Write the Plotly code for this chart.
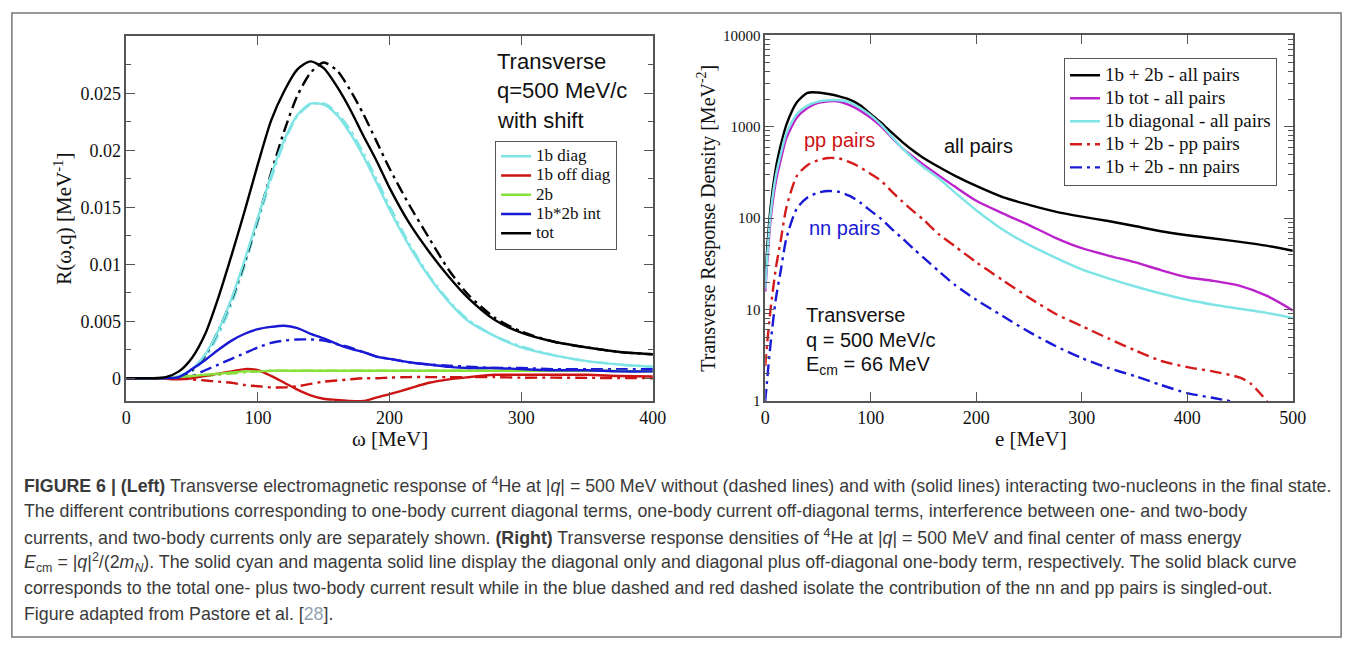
import plotly.graph_objects as go

W, H = 1363, 646
def px(x): return x / W
def py(y): return 1 - y / H

# ---------------- Left panel data (omega in MeV, R in MeV^-1) ----------------
omega = [0, 20, 30, 40, 50, 60, 70, 80, 90, 100, 110, 120, 130, 140, 150, 160, 170, 180, 190,
         200, 215, 230, 245, 260, 280, 300, 325, 350, 375, 400]
tot_fsi = [0, 0, 0.0001, 0.0006, 0.0018, 0.0039, 0.0071, 0.0108, 0.0147, 0.0188, 0.0226, 0.0252,
           0.0271, 0.0278, 0.0272, 0.0256, 0.0236, 0.0213, 0.0191, 0.0167, 0.0136, 0.0111, 0.0089,
           0.0070, 0.0051, 0.0040, 0.0032, 0.0027, 0.0023, 0.0021]
tot_nofsi = [0, 0, 0, 0.0001, 0.0007, 0.0020, 0.0042, 0.0069, 0.0102, 0.0140, 0.0180, 0.0217,
             0.0248, 0.0268, 0.0277, 0.0270, 0.0253, 0.0232, 0.0208, 0.0184, 0.0152, 0.0123, 0.0095,
             0.0073, 0.0053, 0.0041, 0.0032, 0.0027, 0.0023, 0.0021]
diag_fsi = [0, 0, 0, 0.0002, 0.0008, 0.0021, 0.0042, 0.0070, 0.0104, 0.0141, 0.0178, 0.0209,
            0.0231, 0.0241, 0.0240, 0.0231, 0.0215, 0.0195, 0.0172, 0.0148, 0.0116, 0.0089, 0.0067,
            0.0050, 0.0037, 0.0027, 0.0020, 0.0015, 0.0012, 0.0010]
diag_nofsi = [0, 0, 0, 0.0001, 0.0006, 0.0018, 0.0038, 0.0065, 0.0099, 0.0137, 0.0175, 0.0207,
              0.0230, 0.0240, 0.0241, 0.0233, 0.0218, 0.0198, 0.0175, 0.0151, 0.0118, 0.0090, 0.0068,
              0.0051, 0.0037, 0.0028, 0.0020, 0.0015, 0.0012, 0.0010]
int_fsi = [0, 0, 0, 0.0001, 0.0008, 0.0016, 0.0025, 0.0033, 0.0039, 0.0043, 0.0045, 0.0046, 0.0044,
           0.0039, 0.0035, 0.0030, 0.0026, 0.0023, 0.0019, 0.0017, 0.0014, 0.0012, 0.0010, 0.0009,
           0.0009, 0.0008, 0.0007, 0.0007, 0.0006, 0.0006]
int_nofsi = [0, 0, 0, 0, 0.0002, 0.0007, 0.0012, 0.0017, 0.0022, 0.0027, 0.0031, 0.0033, 0.0034,
             0.0034, 0.0033, 0.0030, 0.0027, 0.0023, 0.0019, 0.0017, 0.0014, 0.0012, 0.0011, 0.0010,
             0.0009, 0.0009, 0.0008, 0.0008, 0.0008, 0.0008]
twob_fsi = [0, 0, 0, 0.0001, 0.0002, 0.0003, 0.0004, 0.0005, 0.0006, 0.0006, 0.00065, 0.00065,
            0.00065, 0.00065, 0.00065, 0.00065, 0.00065, 0.00065, 0.00065, 0.00065, 0.00065,
            0.00065, 0.00065, 0.00065, 0.00065, 0.00065, 0.00065, 0.00065, 0.00063, 0.0006]
twob_nofsi = [0, 0, 0, 0, 0.0001, 0.0002, 0.0003, 0.0004, 0.0005, 0.0006, 0.00065, 0.00065,
              0.00065, 0.00065, 0.00065, 0.00065, 0.00065, 0.00065, 0.00065, 0.00065, 0.00065,
              0.00065, 0.00065, 0.00065, 0.00065, 0.00065, 0.00065, 0.00065, 0.00063, 0.0006]
off_fsi = [0, 0, -0.00005, -0.0001, 0, 0.0002, 0.0004, 0.0006, 0.0008, 0.0007, 0.0002, -0.0004,
           -0.0010, -0.0015, -0.0018, -0.0019, -0.0020, -0.0020, -0.0017, -0.0014, -0.0009,
           -0.0004, -0.0001, 0.0001, 0.0003, 0.0003, 0.0003, 0.0003, 0.0002, 0.00015]
off_nofsi = [0, 0, 0, 0, -0.0001, -0.0002, -0.0003, -0.0004, -0.0006, -0.0007, -0.0008, -0.0008,
             -0.0007, -0.0005, -0.0003, -0.0002, -0.0001, 0, 0, 0.00005, 0.0001, 0.0001, 0.0001,
             0.0001, 0.0001, 0.00005, 0.00005, 0.00003, 0.00002, 0]

left_labels = ["1b diag", "1b off diag", "2b", "1b*2b int", "tot"]

# ---------------- Right panel data (e in MeV, density in MeV^-2) ----------------
e_grid = [0, 2, 5, 10, 15, 20, 30, 40, 50, 60, 70, 80, 90, 100, 110, 120, 130, 140, 150, 165, 180,
          200, 225, 250, 275, 300, 325, 350, 375, 400, 425, 450, 475, 500]
all_pairs = [22.8, 50, 130, 350, 650, 1050, 1850, 2350, 2370, 2280, 2150, 1980, 1720, 1370, 1100,
             860, 680, 550, 455, 360, 290, 225, 170, 140, 118, 104, 93, 82, 72, 65, 60, 55, 50, 44]
onebody_tot = [15.7, 35, 95, 250, 450, 750, 1260, 1600, 1820, 1900, 1890, 1720, 1500, 1250, 1000,
               760, 580, 470, 385, 290, 220, 155, 113, 84, 61, 47, 39, 33, 27, 22.6, 20.6, 18.2,
               14.2, 9.8]
onebody_diag = [17, 40, 110, 290, 520, 850, 1380, 1700, 1880, 1950, 1950, 1850, 1600, 1330, 1050,
                780, 580, 450, 360, 270, 190, 122, 75, 51, 37, 27.5, 22, 18, 15, 12.8, 11.3, 10.2,
                9.2, 8.1]
e_pp = [0, 2, 5, 10, 15, 20, 30, 40, 50, 60, 70, 80, 90, 100, 110, 120, 130, 140, 150, 165, 180,
        200, 225, 250, 275, 300, 325, 350, 375, 400, 425, 450, 460, 470, 480]
pp_pairs = [2.4, 4.5, 10, 28, 60, 130, 290, 380, 430, 455, 450, 410, 360, 305, 255, 195, 152, 120,
            96, 66, 49, 33, 21, 13.5, 9.0, 6.6, 4.85, 3.6, 2.75, 2.35, 2.1, 1.8, 1.55, 1.18, 0.85]
e_nn = [0, 2, 5, 10, 15, 20, 30, 40, 50, 60, 70, 80, 90, 100, 110, 120, 130, 140, 150, 165, 180,
        200, 225, 250, 275, 300, 325, 350, 375, 400, 425, 450]
nn_pairs = [1.0, 1.8, 4.2, 13, 28, 60, 128, 168, 190, 198, 194, 175, 148, 120, 98, 76, 60, 47, 37,
            26, 18.5, 12.8, 8.5, 5.7, 4.0, 2.95, 2.3, 1.88, 1.5, 1.22, 1.08, 0.95]

right_labels = ["1b + 2b - all pairs", "1b tot - all pairs", "1b diagonal - all pairs",
                "1b + 2b - pp pairs", "1b + 2b - nn pairs"]

# ---------------- styles ----------------
CYAN, RED, GREEN, BLUE, BLACK, MAG = "#7ee4e6", "#cc1414", "#88e03a", "#1a1ad6", "#000000", "#bb22cc"
DD = "12px,5px,3px,5px"
LW = 2.4
SERIF = "Liberation Serif"
SANS = "Liberation Sans"

def big(s, size):
    return "<span style='font-size:%dpx'>%s</span>" % (size, s)

fig = go.Figure()

def add(x, y, color, name, dash=None, legend="legend", show=True, xa="x", ya="y"):
    fig.add_trace(go.Scatter(x=x, y=y, mode="lines", name=name, xaxis=xa, yaxis=ya,
                             line=dict(color=color, width=LW, dash=dash, shape="spline", smoothing=0.7),
                             showlegend=show, legend=legend, hoverinfo="skip"))

# left panel: dash-dot (no FSI) first, then solid with legend
add(omega, diag_nofsi, CYAN, "diag nofsi", DD, show=False)
add(omega, off_nofsi, RED, "off nofsi", DD, show=False)
add(omega, twob_nofsi, GREEN, "2b nofsi", DD, show=False)
add(omega, int_nofsi, BLUE, "int nofsi", DD, show=False)
add(omega, tot_nofsi, BLACK, "tot nofsi", DD, show=False)
add(omega, diag_fsi, CYAN, big(left_labels[0], 17))
add(omega, off_fsi, RED, big(left_labels[1], 17))
add(omega, twob_fsi, GREEN, big(left_labels[2], 17))
add(omega, int_fsi, BLUE, big(left_labels[3], 17))
add(omega, tot_fsi, BLACK, big(left_labels[4], 17))

# right panel
add(e_grid, all_pairs, BLACK, big(right_labels[0], 19), legend="legend2", xa="x2", ya="y2")
add(e_grid, onebody_tot, MAG, big(right_labels[1], 19), legend="legend2", xa="x2", ya="y2")
add(e_grid, onebody_diag, CYAN, big(right_labels[2], 19), legend="legend2", xa="x2", ya="y2")
add(e_pp, pp_pairs, "#d41c1c", big(right_labels[3], 19), DD, legend="legend2", xa="x2", ya="y2")
add(e_nn, nn_pairs, BLUE, big(right_labels[4], 19), DD, legend="legend2", xa="x2", ya="y2")

AX = dict(showline=True, linecolor="#555", linewidth=1.5, mirror="allticks", ticks="inside",
          tickcolor="#555", tickwidth=1.2, ticklen=9, showgrid=False, zeroline=False,
          tickfont=dict(family=SERIF, size=18, color="#111"))

minor_log = [m * 10 ** d for d in range(4) for m in range(2, 10)]

fig.update_layout(
    width=W, height=H, margin=dict(l=0, r=0, t=0, b=0),
    paper_bgcolor="white", plot_bgcolor="white",
    xaxis=dict(AX, domain=[px(123), px(657)], range=[0, 400], tickvals=[0, 100, 200, 300, 400],
               anchor="y"),
    yaxis=dict(AX, domain=[py(403), py(29)], range=[-0.002, 0.03],
               tickvals=[0, 0.005, 0.01, 0.015, 0.02, 0.025],
               ticktext=["0", "0.005", "0.01", "0.015", "0.02", "0.025"],
               minor=dict(dtick=0.0025, tick0=0, ticks="inside", ticklen=5, tickcolor="#555"),
               anchor="x"),
    xaxis2=dict(AX, domain=[px(771), px(1306)], range=[0, 500],
                tickvals=[0, 100, 200, 300, 400, 500], anchor="y2"),
    yaxis2=dict(AX, domain=[py(403), py(28)], type="log", range=[0, 4],
                tickvals=[1, 10, 100, 1000, 10000], ticktext=["1", "10", "100", "1000", "10000"],
                tickfont=dict(family=SERIF, size=15, color="#111"),
                minor=dict(tickvals=minor_log, ticks="inside", ticklen=5, tickcolor="#555"),
                anchor="x2"),
    legend=dict(x=px(497), y=py(136), xanchor="left", yanchor="top",
                bordercolor="#555", borderwidth=1, bgcolor="white",
                font=dict(family=SERIF, size=12.5, color="#111"), tracegroupgap=0),
    legend2=dict(x=px(1074), y=py(51), xanchor="left", yanchor="top",
                 bordercolor="#555", borderwidth=1, bgcolor="white",
                 font=dict(family=SERIF, size=15.4, color="#111"), tracegroupgap=0),
    showlegend=True,
)

ann = []
def txt(x, y, s, size=20, family=SANS, color="#111", xanchor="left", angle=0):
    ann.append(dict(x=px(x), y=py(y), xref="paper", yref="paper", text=s, showarrow=False,
                    xanchor=xanchor, yanchor="middle", textangle=angle,
                    font=dict(family=family, size=size, color=color)))

# axis titles
txt(59, 216, "R(ω,q) [MeV<sup>-1</sup>]", 21, SERIF, xanchor="center", angle=-90)
txt(390, 442, "ω [MeV]", 21, SERIF, xanchor="center")
txt(712, 216, "Transverse Response Density [MeV<sup>-2</sup>]", 20, SERIF, xanchor="center", angle=-90)
txt(1040, 442, "e [MeV]", 21, SERIF, xanchor="center")

# left panel notes
txt(497, 55, "Transverse", 22)
txt(497, 85, "q=500 MeV/c", 22)
txt(497, 115, "with shift", 22)

# right panel notes
txt(808, 135, "pp pairs", 20, color="#cc1414")
txt(950, 142, "all pairs", 20)
txt(813, 226, "nn pairs", 20, color="#1a1ad6")
txt(810, 315, "Transverse", 20)
txt(810, 340, "q = 500 MeV/c", 20)
txt(810, 367, "E<sub>cm</sub> = 66 MeV", 20)

# caption
CAP = "Liberation Sans"
cap_lines = [
    "<b>FIGURE 6 | (Left)</b> Transverse electromagnetic response of <sup>4</sup>He at |<i>q</i>| = 500 MeV without (dashed lines) and with (solid lines) interacting two-nucleons in the final state.",
    "The different contributions corresponding to one-body current diagonal terms, one-body current off-diagonal terms, interference between one- and two-body",
    "currents, and two-body currents only are separately shown. <b>(Right)</b> Transverse response densities of <sup>4</sup>He at |<i>q</i>| = 500 MeV and final center of mass energy",
    "<i>E</i><sub>cm</sub> = |<i>q</i>|<sup>2</sup>/(2<i>m<sub>N</sub></i>). The solid cyan and magenta solid line display the diagonal only and diagonal plus off-diagonal one-body term, respectively. The solid black curve",
    "corresponds to the total one- plus two-body current result while in the blue dashed and red dashed isolate the contribution of the nn and pp pairs is singled-out.",
    "Figure adapted from Pastore et al. [<span style='color:#8fa3b0'>28</span>].",
]
cap_y = [489, 515.5, 542, 568.5, 595, 621.5]
for s, y in zip(cap_lines, cap_y):
    txt(17, y, s, 17.8, CAP, color="#3a3a3a")

fig.update_layout(annotations=ann)

# outer figure frame
fig.add_shape(type="rect", xref="paper", yref="paper", x0=px(7), x1=px(1355), y0=py(645), y1=py(5),
              line=dict(color="#777", width=1.5), fillcolor="rgba(0,0,0,0)", layer="below")

fig.write_html("out.html")
